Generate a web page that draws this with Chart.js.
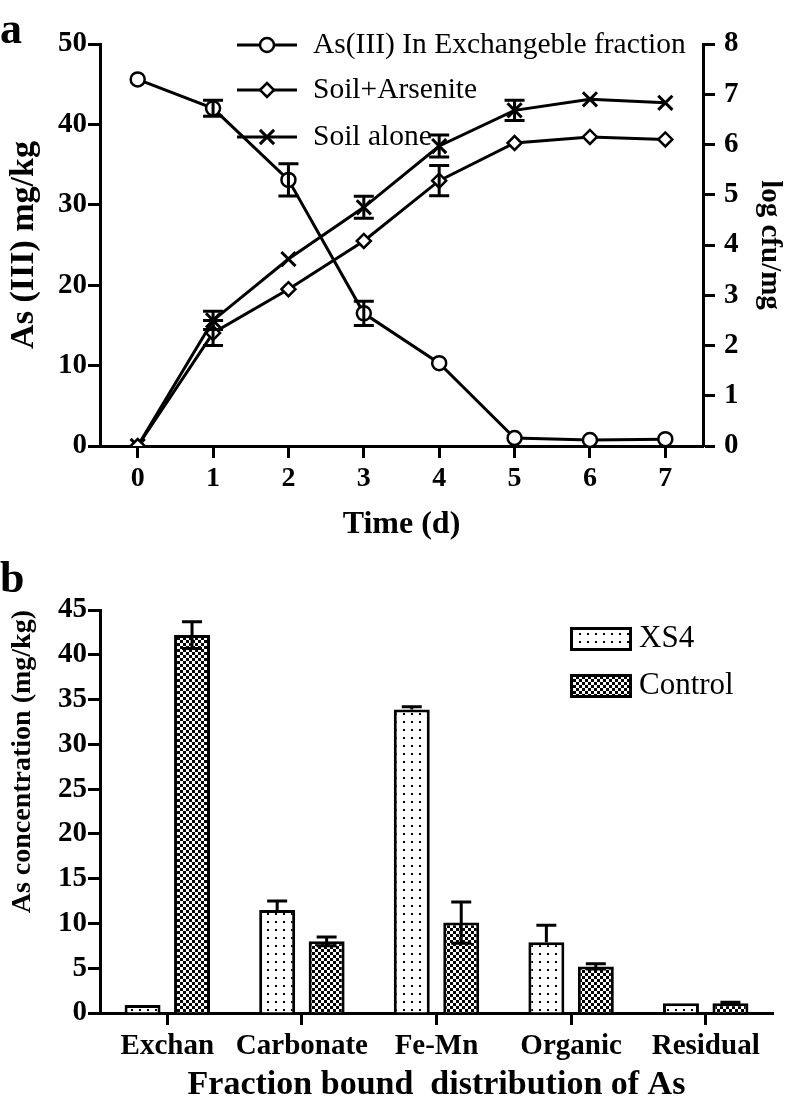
<!DOCTYPE html>
<html>
<head>
<meta charset="utf-8">
<script src="https://cdn.jsdelivr.net/npm/chart.js@4.4.0/dist/chart.umd.min.js"></script>
<style>
  body { margin: 0; background: #fff; width: 796px; height: 1112px; position: relative; overflow: hidden; }
  .panel { position: absolute; left: 0; width: 796px; }
  #pa { top: 0; height: 550px; }
  #pb { top: 550px; height: 562px; }
</style>
</head>
<body>
<div class="panel" id="pa"><canvas id="timeChart"></canvas></div>
<div class="panel" id="pb"><canvas id="fractionChart"></canvas></div>
<script>
// panel a: time course
const days = ["0", "1", "2", "3", "4", "5", "6", "7"];
const asExchangeable = [45.6, 42.0, 33.1, 16.5, 10.3, 1.0, 0.75, 0.85];
const asExchangeableErr = [0, 1.0, 2.0, 1.5, 0, 0, 0, 0];
const soilArsenite = [0, 2.25, 3.12, 4.08, 5.28, 6.03, 6.15, 6.1];
const soilArseniteErr = [0, 0.25, 0, 0, 0.3, 0, 0, 0];
const soilAlone = [0, 2.5, 3.72, 4.75, 5.97, 6.68, 6.9, 6.83];
const soilAloneErr = [0, 0.18, 0, 0.22, 0.22, 0.2, 0, 0];
const leftTicks = [0, 50, 10];   // min, max, step
const rightTicks = [0, 8, 1];

// panel b: fractions
const fractions = ["Exchan", "Carbonate", "Fe-Mn", "Organic", "Residual"];
const xs4 = [0.9, 11.5, 33.9, 7.9, 1.1];
const xs4Err = [0, 1.0, 0.3, 1.9, 0];
const control = [42.2, 8.0, 10.1, 5.2, 1.1];
const controlErr = [1.5, 0.5, 2.3, 0.3, 0.1];
const concTicks = [0, 45, 5];

const SERIF = "'Liberation Serif', 'Times New Roman', serif";
Chart.defaults.font.family = SERIF;
Chart.defaults.color = "#000";

function dotPattern() {
  const c = document.createElement("canvas");
  c.width = 8; c.height = 8;
  const g = c.getContext("2d");
  g.fillStyle = "#fff"; g.fillRect(0, 0, 8, 8);
  g.fillStyle = "#000"; g.fillRect(3, 3, 2, 2);
  return g.createPattern(c, "repeat");
}
function checkPattern() {
  const c = document.createElement("canvas");
  c.width = 6; c.height = 6;
  const g = c.getContext("2d");
  g.fillStyle = "#fff"; g.fillRect(0, 0, 6, 6);
  g.fillStyle = "#000"; g.fillRect(0, 0, 3, 3); g.fillRect(3, 3, 3, 3);
  return g.createPattern(c, "repeat");
}

// error bars from dataset.errors, drawn with the chart's own scales
const errorBars = {
  id: "errorBars",
  afterDatasetsDraw(chart) {
    const ctx = chart.ctx;
    chart.data.datasets.forEach((ds, i) => {
      if (!ds.errors) return;
      const meta = chart.getDatasetMeta(i);
      const scale = chart.scales[meta.yAxisID];
      ctx.save();
      ctx.strokeStyle = "#000";
      ctx.lineWidth = 3;
      meta.data.forEach((el, j) => {
        const e = ds.errors[j];
        if (!e) return;
        const v = ds.data[j];
        const top = scale.getPixelForValue(v + e);
        const bot = scale.getPixelForValue(ds.upOnly ? v : v - e);
        const half = 10;
        ctx.beginPath();
        ctx.moveTo(el.x, top); ctx.lineTo(el.x, bot);
        ctx.moveTo(el.x - half, top); ctx.lineTo(el.x + half, top);
        if (!ds.upOnly) { ctx.moveTo(el.x - half, bot); ctx.lineTo(el.x + half, bot); }
        ctx.stroke();
      });
      ctx.restore();
    });
  }
};

const panelLetter = {
  id: "panelLetter",
  afterDraw(chart, args, opts) {
    const ctx = chart.ctx;
    ctx.save();
    ctx.font = "bold 44px " + SERIF;
    ctx.fillStyle = "#000";
    ctx.textBaseline = "alphabetic";
    ctx.fillText(opts.text, opts.x, opts.y);
    ctx.restore();
  }
};

// legend inside plot area for the line chart
const lineLegend = {
  id: "lineLegend",
  afterDraw(chart, args, opts) {
    const ctx = chart.ctx;
    ctx.save();
    chart.data.datasets.forEach((ds, i) => {
      const y = opts.rows[i];
      ctx.strokeStyle = "#000";
      ctx.lineWidth = 3;
      ctx.beginPath();
      ctx.moveTo(opts.x0, y); ctx.lineTo(opts.x1, y);
      ctx.stroke();
      ctx.fillStyle = "#fff";
      ctx.lineWidth = ds.pointBorderWidth;
      Chart.helpers.drawPoint(ctx, {
        pointStyle: ds.pointStyle, radius: ds.pointRadius,
        borderWidth: ds.pointBorderWidth, rotation: 0
      }, (opts.x0 + opts.x1) / 2, y);
      ctx.fillStyle = "#000";
      ctx.font = "29.5px " + SERIF;
      ctx.textBaseline = "middle";
      ctx.fillText(ds.label, opts.textX, y);
    });
    ctx.restore();
  }
};

// legend with pattern boxes for the bar chart
const boxLegend = {
  id: "boxLegend",
  afterDraw(chart, args, opts) {
    const ctx = chart.ctx;
    ctx.save();
    chart.data.datasets.forEach((ds, i) => {
      const y = opts.rows[i];
      ctx.fillStyle = ds.backgroundColor;
      ctx.fillRect(opts.x, y - opts.h / 2, opts.w, opts.h);
      ctx.strokeStyle = "#000";
      ctx.lineWidth = 3;
      ctx.strokeRect(opts.x + 1.5, y - opts.h / 2 + 1.5, opts.w - 3, opts.h - 3);
      ctx.fillStyle = "#000";
      ctx.font = "31px " + SERIF;
      ctx.textBaseline = "middle";
      ctx.fillText(ds.label, opts.x + opts.w + 7, y);
    });
    ctx.restore();
  }
};

function axisStyle(extra) {
  return Object.assign({
    grid: { drawOnChartArea: false, drawTicks: true, tickLength: 12, tickWidth: 3, tickColor: "#000" },
    border: { display: true, width: 3, color: "#000" }
  }, extra);
}

new Chart(document.getElementById("timeChart").getContext("2d"), {
  type: "line",
  data: {
    labels: days,
    datasets: [
      {
        label: "As(III) In Exchangeble fraction",
        data: asExchangeable, errors: asExchangeableErr, yAxisID: "y",
        borderColor: "#000", borderWidth: 3, pointStyle: "circle", pointRadius: 7,
        pointBorderWidth: 2.5, pointBackgroundColor: "#fff", pointBorderColor: "#000"
      },
      {
        label: "Soil+Arsenite",
        data: soilArsenite, errors: soilArseniteErr, yAxisID: "y1",
        borderColor: "#000", borderWidth: 3, pointStyle: "rectRot", pointRadius: 7,
        pointBorderWidth: 2.5, pointBackgroundColor: "#fff", pointBorderColor: "#000"
      },
      {
        label: "Soil alone",
        data: soilAlone, errors: soilAloneErr, yAxisID: "y1",
        borderColor: "#000", borderWidth: 3, pointStyle: "crossRot", pointRadius: 10,
        pointBorderWidth: 3, pointBackgroundColor: "#fff", pointBorderColor: "#000"
      }
    ]
  },
  options: {
    responsive: true,
    maintainAspectRatio: false,
    animation: false,
    layout: { padding: { top: 44, left: 0, right: 0, bottom: 0 } },
    plugins: {
      legend: { display: false },
      tooltip: { enabled: false },
      panelLetter: { text: "a", x: 0, y: 43 },
      lineLegend: { x0: 237, x1: 297, textX: 313, rows: [45, 90, 137] }
    },
    scales: {
      x: axisStyle({
        type: "category",
        offset: true,
        ticks: { font: { size: 28, weight: "bold" }, padding: 4, maxRotation: 0, autoSkip: false },
        title: { display: true, text: "Time (d)", font: { size: 32, weight: "bold", lineHeight: 1 }, padding: { top: 0, bottom: 9 } },
        afterFit(s) { s.height = 104; }
      }),
      y: axisStyle({
        position: "left",
        min: leftTicks[0], max: leftTicks[1],
        ticks: { stepSize: leftTicks[2], font: { size: 29, weight: "bold" }, padding: 1 },
        title: { display: true, text: "As (III) mg/kg", font: { size: 34, weight: "bold", lineHeight: 1 }, padding: { top: 7, bottom: 0 } },
        afterFit(s) { s.width = 100; }
      }),
      y1: axisStyle({
        position: "right",
        min: rightTicks[0], max: rightTicks[1],
        ticks: { stepSize: rightTicks[2], font: { size: 29, weight: "bold" }, padding: 9 },
        title: { display: true, text: "log cfu/mg", font: { size: 29, weight: "bold", lineHeight: 1 }, padding: { top: 12, bottom: 0 } },
        afterFit(s) { s.width = 93; }
      })
    }
  },
  plugins: [errorBars, panelLetter, lineLegend]
});

new Chart(document.getElementById("fractionChart").getContext("2d"), {
  type: "bar",
  data: {
    labels: fractions,
    datasets: [
      {
        label: "XS4", data: xs4, errors: xs4Err, upOnly: true,
        backgroundColor: dotPattern(), borderColor: "#000", borderWidth: 3,
        categoryPercentage: 0.735, barPercentage: 0.727
      },
      {
        label: "Control", data: control, errors: controlErr,
        backgroundColor: checkPattern(), borderColor: "#000", borderWidth: 3,
        categoryPercentage: 0.735, barPercentage: 0.727
      }
    ]
  },
  options: {
    responsive: true,
    maintainAspectRatio: false,
    animation: false,
    layout: { padding: { top: 60, left: 0, right: 23, bottom: 0 } },
    plugins: {
      legend: { display: false },
      tooltip: { enabled: false },
      panelLetter: { text: "b", x: 0, y: 42 },
      boxLegend: { x: 570, w: 62, h: 24, rows: [89, 136] }
    },
    scales: {
      x: axisStyle({
        grid: { offset: false, drawOnChartArea: false, drawTicks: true, tickLength: 12, tickWidth: 3, tickColor: "#000" },
        ticks: { font: { size: 29, weight: "bold" }, padding: 4, maxRotation: 0, minRotation: 0, autoSkip: false },
        title: { display: true, text: "Fraction bound  distribution of As", font: { size: 34, weight: "bold", lineHeight: 1 }, padding: { top: 0, bottom: 10 } },
        afterFit(s) { s.height = 99; }
      }),
      y: axisStyle({
        min: concTicks[0], max: concTicks[1],
        ticks: { stepSize: concTicks[2], font: { size: 29, weight: "bold" }, padding: 1 },
        title: { display: true, text: "As concentration (mg/kg)", align: "end", font: { size: 28, weight: "bold", lineHeight: 1 }, padding: { top: 9, bottom: 0 } },
        afterFit(s) { s.width = 100; }
      })
    }
  },
  plugins: [errorBars, panelLetter, boxLegend]
});
</script>
</body>
</html>
